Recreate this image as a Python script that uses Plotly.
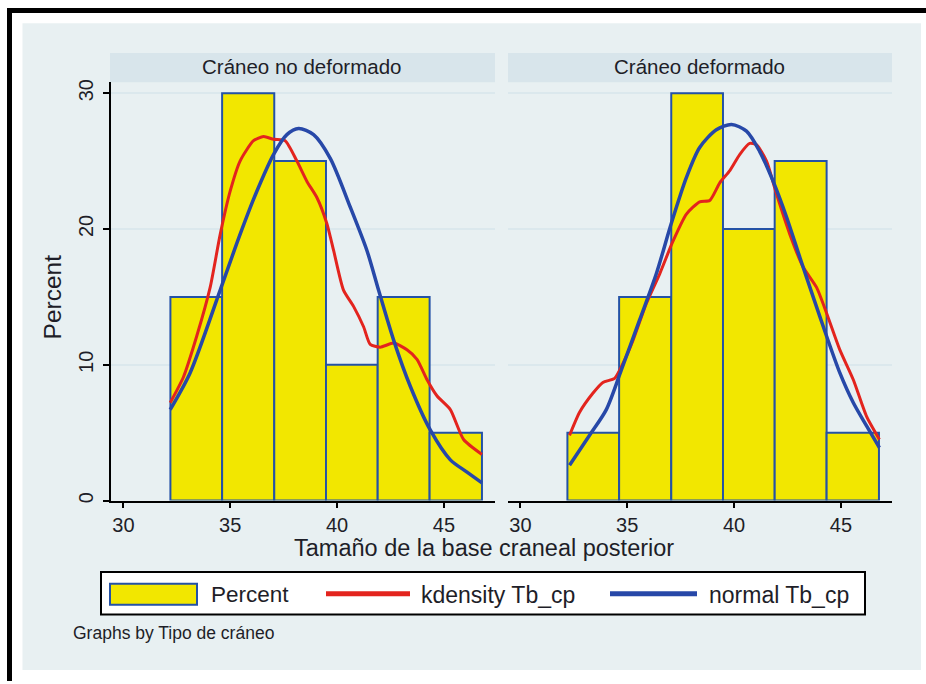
import plotly.graph_objects as go

# ---------------- data ----------------
bin_edges = [32.2, 34.62, 37.06, 39.48, 41.9, 44.33, 46.78]
pct_no_deformado = [15, 30, 25, 10, 15, 5]
pct_deformado = [5, 15, 30, 20, 25, 5]

kd_no_x = [32.19, 32.81, 33.43, 34.06, 34.53, 35.0, 35.46, 36.09, 36.56, 37.03, 37.57, 38.12,
           38.59, 39.06, 39.52, 39.84, 40.3, 40.77, 41.24, 41.55, 42.02, 42.65, 43.27, 43.74,
           44.21, 44.68, 45.3, 45.92, 46.78]
kd_no_y = [7.2, 9.1, 12.1, 15.7, 19.6, 22.8, 25.0, 26.5, 26.8, 26.6, 26.5, 25.0,
           23.5, 22.3, 20.4, 18.4, 15.5, 14.3, 12.8, 11.5, 11.3, 11.6, 11.1, 10.4,
           8.9, 7.7, 6.7, 4.5, 3.4]

nm_no_x = [32.19, 33.12, 34.53, 35.46, 36.25, 37.03, 37.65, 38.2, 38.9, 39.68, 40.62, 41.4,
           41.94, 42.65, 43.43, 44.36, 45.3, 46.08, 46.78]
nm_no_y = [6.7, 9.4, 15.5, 19.6, 22.8, 25.5, 26.95, 27.4, 26.95, 25.2, 21.6, 18.4,
           15.5, 11.8, 8.4, 5.2, 3.0, 2.1, 1.3]

kd_def_x = [32.3, 32.77, 33.39, 33.86, 34.41, 34.8, 35.27, 35.89, 36.52, 37.14, 37.77, 38.39,
            38.86, 39.33, 39.8, 40.27, 40.73, 41.05, 41.52, 41.98, 42.61, 43.23, 43.86, 44.33,
            44.95, 45.58, 46.2, 46.8]
kd_def_y = [4.8, 6.5, 7.9, 8.7, 9.0, 10.1, 11.8, 14.5, 16.7, 19.1, 21.1, 22.0,
            22.1, 23.4, 24.3, 25.5, 26.3, 26.2, 25.0, 22.6, 19.6, 17.2, 15.7, 13.8,
            11.1, 8.9, 6.2, 4.5]

nm_def_x = [32.3, 33.23, 34.02, 34.72, 35.58, 36.36, 37.06, 37.77, 38.39, 39.17, 39.88, 40.58,
            41.2, 41.83, 42.45, 43.08, 43.7, 44.33, 44.95, 45.58, 46.2, 46.8]
nm_def_y = [2.6, 4.8, 6.7, 9.6, 13.3, 16.7, 20.4, 23.8, 26.0, 27.3, 27.7, 27.2,
            25.7, 23.5, 20.9, 17.9, 15.0, 12.1, 9.4, 7.2, 5.5, 3.9]

x_ticks = [30, 35, 40, 45]
y_ticks = [0, 10, 20, 30]
panel_titles = ["Cráneo no deformado", "Cráneo deformado"]
legend_labels = ["Percent", "kdensity Tb_cp", "normal Tb_cp"]
x_title = "Tamaño de la base craneal posterior"
y_title = "Percent"
note = "Graphs by Tipo de cráneo"

# ---------------- styling ----------------
W, H = 926, 684
FONT = "Liberation Sans, Arial, sans-serif"
TXT = "#1e1e28"
YELLOW = "#f2e700"
BAR_LINE = "#2452a6"
RED = "#e3241e"
BLUE = "#2748a8"
LIGHT = "#e8f0f2"
STRIP = "#d8e5eb"
GRID = "#dbe8ed"


def fx(px):
    return px / W


def fy(py):
    return 1 - py / H


centers = [(bin_edges[i] + bin_edges[i + 1]) / 2 for i in range(len(bin_edges) - 1)]
widths = [bin_edges[i + 1] - bin_edges[i] for i in range(len(bin_edges) - 1)]

fig = go.Figure()
panels = [
    ("x", "y", pct_no_deformado, kd_no_x, kd_no_y, nm_no_x, nm_no_y),
    ("x2", "y2", pct_deformado, kd_def_x, kd_def_y, nm_def_x, nm_def_y),
]
for xa, ya, pct, kx, ky, nx, ny in panels:
    fig.add_trace(go.Bar(x=centers, y=pct, width=widths, xaxis=xa, yaxis=ya,
                         name=legend_labels[0],
                         marker=dict(color=YELLOW, line=dict(color=BAR_LINE, width=2))))
    fig.add_trace(go.Scatter(x=kx, y=ky, mode="lines", xaxis=xa, yaxis=ya,
                             name=legend_labels[1],
                             line=dict(color=RED, width=3, shape="spline", smoothing=0.6)))
    fig.add_trace(go.Scatter(x=nx, y=ny, mode="lines", xaxis=xa, yaxis=ya,
                             name=legend_labels[2],
                             line=dict(color=BLUE, width=3.5, shape="spline", smoothing=0.8)))

x_range = [29.42, 47.39]
y_range = [0, 30.8]
y_dom = [fy(502), fy(80)]
left_dom = [fx(111), fx(495)]
right_dom = [fx(508), fx(892)]

xcommon = dict(range=x_range, tickvals=x_ticks, ticks="outside", ticklen=6, tickwidth=1.5,
               tickcolor="black", showline=True, linecolor="black", linewidth=1.5,
               showgrid=False, zeroline=False,
               tickfont=dict(family=FONT, size=20, color=TXT))

fig.update_layout(
    width=W, height=H, autosize=False,
    margin=dict(l=0, r=0, t=0, b=0),
    paper_bgcolor="white", plot_bgcolor="white",
    showlegend=False,
    font=dict(family=FONT, color=TXT),
    xaxis=dict(domain=left_dom, anchor="y", **xcommon),
    xaxis2=dict(domain=right_dom, anchor="y2", **xcommon),
    yaxis=dict(domain=y_dom, anchor="x", range=y_range, tickvals=y_ticks, ticks="outside",
               ticklen=6, tickwidth=1.5, tickcolor="black", showline=True, linecolor="black",
               linewidth=1.5, showgrid=True, gridcolor=GRID, gridwidth=2, zeroline=False,
               tickangle=-90, ticklabelstandoff=2,
               tickfont=dict(family=FONT, size=20, color=TXT)),
    yaxis2=dict(domain=y_dom, anchor="x2", range=y_range, tickvals=y_ticks, ticks="",
                showticklabels=False, showline=False, showgrid=True, gridcolor=GRID,
                gridwidth=2, zeroline=False),
)

shapes = [
    # light background region
    dict(type="rect", xref="paper", yref="paper", x0=fx(22.5), x1=fx(921), y0=fy(673), y1=fy(20.5),
         fillcolor=LIGHT, line=dict(width=0), layer="below"),
    # black frame lines (top and left)
    dict(type="rect", xref="paper", yref="paper", x0=fx(7), x1=fx(926), y0=fy(10), y1=fy(5),
         fillcolor="black", line=dict(width=0), layer="below"),
    dict(type="rect", xref="paper", yref="paper", x0=fx(7), x1=fx(12), y0=fy(684), y1=fy(5),
         fillcolor="black", line=dict(width=0), layer="below"),
    # strips
    dict(type="rect", xref="paper", yref="paper", x0=fx(110), x1=fx(495), y0=fy(80), y1=fy(50.5),
         fillcolor=STRIP, line=dict(width=0), layer="below"),
    dict(type="rect", xref="paper", yref="paper", x0=fx(508), x1=fx(892), y0=fy(80), y1=fy(50.5),
         fillcolor=STRIP, line=dict(width=0), layer="below"),
    # legend box
    dict(type="rect", xref="paper", yref="paper", x0=fx(101), x1=fx(865), y0=fy(617), y1=fy(574),
         fillcolor="white", line=dict(color="black", width=2), layer="below"),
    # legend keys
    dict(type="rect", xref="paper", yref="paper", x0=fx(110), x1=fx(197), y0=fy(607), y1=fy(586),
         fillcolor=YELLOW, line=dict(color=BAR_LINE, width=2), layer="below"),
    dict(type="line", xref="paper", yref="paper", x0=fx(326), x1=fx(410), y0=fy(596), y1=fy(596),
         line=dict(color=RED, width=5), layer="below"),
    dict(type="line", xref="paper", yref="paper", x0=fx(610), x1=fx(697), y0=fy(596), y1=fy(596),
         line=dict(color=BLUE, width=5), layer="below"),
]
fig.update_layout(shapes=shapes)

ann = [
    dict(text=panel_titles[0], x=fx(301), y=fy(64), xanchor="center", yanchor="middle",
         font=dict(size=20.5)),
    dict(text=panel_titles[1], x=fx(699), y=fy(64), xanchor="center", yanchor="middle",
         font=dict(size=20.5)),
    dict(text=x_title, x=fx(484), y=fy(550), xanchor="center", yanchor="middle",
         font=dict(size=23.5)),
    dict(text=y_title, x=fx(52), y=fy(297), xanchor="center", yanchor="middle",
         textangle=-90, font=dict(size=24.5)),
    dict(text=legend_labels[0], x=fx(209), y=fy(597), xanchor="left", yanchor="middle",
         font=dict(size=22.5)),
    dict(text=legend_labels[1], x=fx(419), y=fy(597), xanchor="left", yanchor="middle",
         font=dict(size=23)),
    dict(text=legend_labels[2], x=fx(707), y=fy(597), xanchor="left", yanchor="middle",
         font=dict(size=23)),
    dict(text=note, x=fx(71), y=fy(636), xanchor="left", yanchor="middle",
         font=dict(size=17.5)),
]
for a in ann:
    a.update(xref="paper", yref="paper", showarrow=False)
    a["font"].update(family=FONT, color=TXT)
fig.update_layout(annotations=ann)

fig.write_html("out.html", config={"displayModeBar": False},
               post_script="document.body.style.margin='0';document.body.style.overflow='hidden';")
